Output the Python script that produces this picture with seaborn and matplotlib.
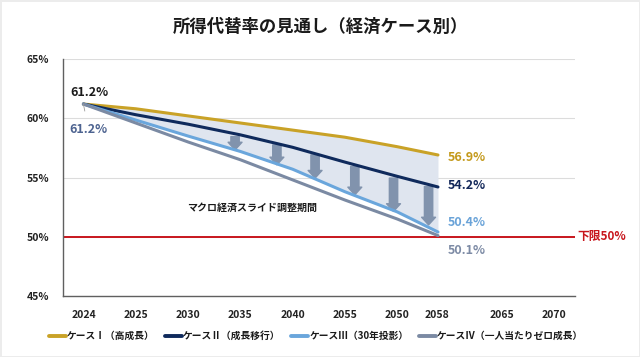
import numpy as np
import pandas as pd
import matplotlib
matplotlib.use("Agg")
import matplotlib.pyplot as plt
import matplotlib.transforms as mtransforms
from matplotlib.lines import Line2D
import seaborn as sns

# x positions in tick-slot units (0 = first tick "2024"); last point sits at the "2058" label
point_pos = [0, 1, 2, 3, 4, 5, 6, 6.78]
tick_labels = ["2024", "2025", "2030", "2035", "2040", "2055", "2050", "2058", "2065", "2070"]

case_names = ["ケースⅠ（高成長）", "ケースⅡ（成長移行）", "ケースⅢ（30年投影）", "ケースⅣ（一人当たりゼロ成長）"]
case1 = [61.2, 60.8, 60.2, 59.6, 59.0, 58.4, 57.6, 56.9]
case2 = [61.2, 60.3, 59.5, 58.6, 57.55, 56.3, 55.1, 54.2]
case3 = [61.2, 59.85, 58.5, 57.2, 55.7, 53.8, 52.1, 50.4]
case4 = [61.2, 59.6, 58.0, 56.5, 54.8, 53.1, 51.5, 50.1]

# downward arrows of the adjustment period
arrow_pos = [2.90, 3.70, 4.43, 5.19, 5.93, 6.60]
arrow_top = [58.45, 57.75, 56.91, 55.93, 54.95, 54.24]
arrow_tip = [57.33, 56.07, 54.95, 53.54, 52.14, 51.0]

colors = ["#c9a227", "#0f2a5c", "#6aa6dc", "#7b8aa3"]
label_colors = ["#c49a1c", "#13285a", "#6aa3d8", "#7d8ba5"]

df = pd.DataFrame({
    "pos": point_pos * 4,
    "rate": case1 + case2 + case3 + case4,
    "case": [n for n in case_names for _ in point_pos],
})

sns.set_style("white")
plt.rcParams["font.family"] = ["Noto Sans CJK JP", "DejaVu Sans"]

fig = plt.figure(figsize=(6.4, 3.57), dpi=100)
ax = fig.add_axes([63 / 640, 1 - 296 / 357, (575 - 63) / 640, (296 - 59) / 357])

ax.fill_between(point_pos, case3, case1, color="#dfe5ef", zorder=1, lw=0)

for x, top, tip in zip(arrow_pos, arrow_top, arrow_tip):
    ax.annotate("", xy=(x, tip), xytext=(x, top),
                arrowprops=dict(arrowstyle="simple,head_length=0.55,head_width=1.0,tail_width=0.6",
                                color="#8193ad", shrinkA=0, shrinkB=0), zorder=2)

sns.lineplot(data=df, x="pos", y="rate", hue="case", palette=colors,
             linewidth=2.2, legend=False, ax=ax, zorder=3)

ax.axhline(50, color="#c8161d", lw=1.4, zorder=2)

ax.set_xlim(-0.39, 9.4)
ax.set_ylim(45, 65)
ax.set_xticks(range(len(tick_labels)))
ax.set_xticklabels(tick_labels)
ax.set_yticks([45, 50, 55, 60, 65])
ax.set_yticklabels([f"{v}%" for v in [45, 50, 55, 60, 65]])
ax.tick_params(axis="x", length=4, width=0.8, color="#7f7f7f", labelsize=7.5, pad=6, labelcolor="#222222")
ax.tick_params(axis="y", length=0, labelsize=7.5, pad=10, labelcolor="#222222")
for lab in ax.get_xticklabels() + ax.get_yticklabels():
    lab.set_fontweight("bold")
# the "2058" label sits left of its tick, under the line ends
shift = mtransforms.ScaledTranslation(-0.13, 0, fig.dpi_scale_trans)
lab58 = ax.get_xticklabels()[7]
lab58.set_transform(lab58.get_transform() + shift)

ax.grid(axis="y", color="#dcdcdc", lw=0.8)
ax.set_axisbelow(True)
for s in ["top", "right"]:
    ax.spines[s].set_visible(False)
for s in ["left", "bottom"]:
    ax.spines[s].set_color("#606060")
    ax.spines[s].set_linewidth(1.0)
ax.set_xlabel("")
ax.set_ylabel("")

# start labels
ax.annotate("61.2%", xy=(point_pos[0], case1[0]), xytext=(4.3, 8), textcoords="offset points",
            ha="center", va="center", fontsize=9, fontweight="bold", color="#1a1a1a")
ax.annotate("61.2%", xy=(point_pos[0], case4[0]), xytext=(3.6, -18), textcoords="offset points",
            ha="center", va="center", fontsize=9, fontweight="bold", color="#4d6390",
            arrowprops=dict(arrowstyle="-", color="#9a9a9a", lw=0.6, shrinkA=6, shrinkB=0))

# end labels
end_offsets = [-1.5, 1, 6.5, -11]
for vals, col, dy in zip([case1, case2, case3, case4], label_colors, end_offsets):
    ax.annotate(f"{vals[-1]}%", xy=(point_pos[-1], vals[-1]), xytext=(7, dy),
                textcoords="offset points", ha="left", va="center",
                fontsize=9, fontweight="bold", color=col)

ax.annotate("下限50%", xy=(1, 50), xycoords=("axes fraction", "data"), xytext=(2, 0),
            textcoords="offset points", ha="left", va="center", fontsize=8.5,
            fontweight="bold", color="#c8161d")

ax.text(3.23, 52.45, "マクロ経済スライド調整期間", ha="center", va="center",
        fontsize=7.2, fontweight="bold", color="#1a1a1a")

fig.text(0.5, 1 - 27 / 357, "所得代替率の見通し（経済ケース別）", ha="center", va="center",
         fontsize=12.5, fontweight="bold", color="#1a1a1a")

handles = [Line2D([0], [0], color=c, lw=2.8) for c in colors]
leg = fig.legend(handles, case_names, loc="center", bbox_to_anchor=(316 / 640, 1 - 336 / 357),
                 ncol=4, frameon=False, fontsize=7.0, handlelength=1.75, handletextpad=0.1,
                 columnspacing=1.1)
for t in leg.get_texts():
    t.set_fontweight("bold")
    t.set_color("#1a1a1a")

fig.patch.set_linewidth(2)
fig.savefig("out.png", dpi=100, facecolor="white", edgecolor="#ececec")
